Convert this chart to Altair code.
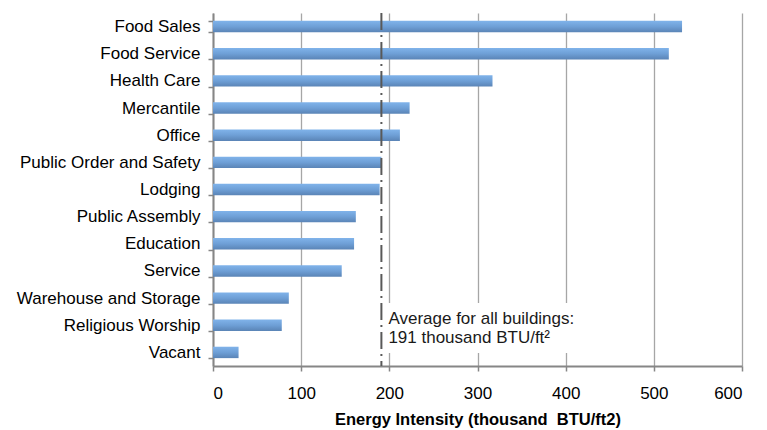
import altair as alt
import pandas as pd

# Energy intensity by principal building activity (thousand BTU per square foot)
categories = [
    "Food Sales", "Food Service", "Health Care", "Mercantile", "Office",
    "Public Order and Safety", "Lodging", "Public Assembly", "Education",
    "Service", "Warehouse and Storage", "Religious Worship", "Vacant",
]
intensity = [532, 517, 317, 223, 212, 191, 189, 162, 160, 146, 86, 78, 29]
average_all = 191
x_ticks = [0, 100, 200, 300, 400, 500, 600]
note_lines = ["Average for all buildings:", "191 thousand BTU/ft\u00b2"]

df = pd.DataFrame({"activity": categories, "intensity": intensity})
avg_df = pd.DataFrame({"average": [average_all]})

FONT = "Liberation Sans"
AXIS_GREY = "#868686"

x_scale = alt.Scale(domain=[0, 600], nice=False)
y_scale = alt.Scale(domain=categories, paddingInner=0.58, paddingOuter=0.29)

bar_fill = alt.LinearGradient(
    gradient="linear",
    stops=[
        alt.GradientStop(color="#80B3EA", offset=0),
        alt.GradientStop(color="#6E9FD6", offset=0.5),
        alt.GradientStop(color="#5A84B6", offset=1),
    ],
    x1=0, x2=0, y1=0, y2=1,
)

bars = alt.Chart(df).mark_bar(color=bar_fill).encode(
    x=alt.X(
        "intensity:Q",
        scale=x_scale,
        axis=alt.Axis(
            values=x_ticks,
            title="Energy Intensity (thousand\u00a0 BTU/ft2)",
            titleFont=FONT, titleFontSize=16.5, titleFontWeight="bold",
            titleColor="#000000", titlePadding=10,
            labelFont=FONT, labelFontSize=17, labelColor="#000000",
            labelPadding=14,
            grid=True, gridColor="#A6A6A6", gridWidth=1.3,
            domainColor=AXIS_GREY, domainWidth=2,
            tickColor=AXIS_GREY, tickWidth=1.5, tickSize=5,
        ),
    ),
    y=alt.Y(
        "activity:N",
        scale=y_scale,
        sort=categories,
        axis=alt.Axis(
            title=None,
            labelFont=FONT, labelFontSize=17, labelColor="#000000",
            labelPadding=8, labelLimit=0,
            grid=False, tickBand="extent",
            domainColor=AXIS_GREY, domainWidth=2,
            tickColor=AXIS_GREY, tickWidth=1.5, tickSize=5,
        ),
    ),
)

# White box behind the note, hiding the grid lines it sits on
note_box = alt.Chart(avg_df).mark_rect(color="white").encode(
    x=alt.X("average:Q", scale=x_scale),
    x2=alt.datum(438),
    y=alt.value(290),
    y2=alt.value(340),
    xOffset=alt.value(2),
)

avg_rule = alt.Chart(avg_df).mark_rule(
    color="#595959", strokeWidth=2, strokeDash=[17, 5, 2, 5]
).encode(x=alt.X("average:Q", scale=x_scale))


def note_line(text, baseline_y):
    return alt.Chart(avg_df).mark_text(
        align="left", baseline="alphabetic", font=FONT, fontSize=17,
        color="#1A1A1A", dx=7, text=text,
    ).encode(
        x=alt.X("average:Q", scale=x_scale),
        y=alt.value(baseline_y),
    )


note_1 = note_line(note_lines[0], 311)
note_2 = note_line(note_lines[1], 330)

chart = (
    alt.layer(bars, note_box, avg_rule, note_1, note_2)
    .properties(
        width=529, height=353,
        autosize=alt.AutoSizeParams(type="none"),
        padding={"left": 213, "top": 13, "right": 25, "bottom": 64},
        background="white",
    )
    .configure_view(stroke=None)
)

chart.save("out.html", embed_options={"renderer": "svg", "actions": False})
